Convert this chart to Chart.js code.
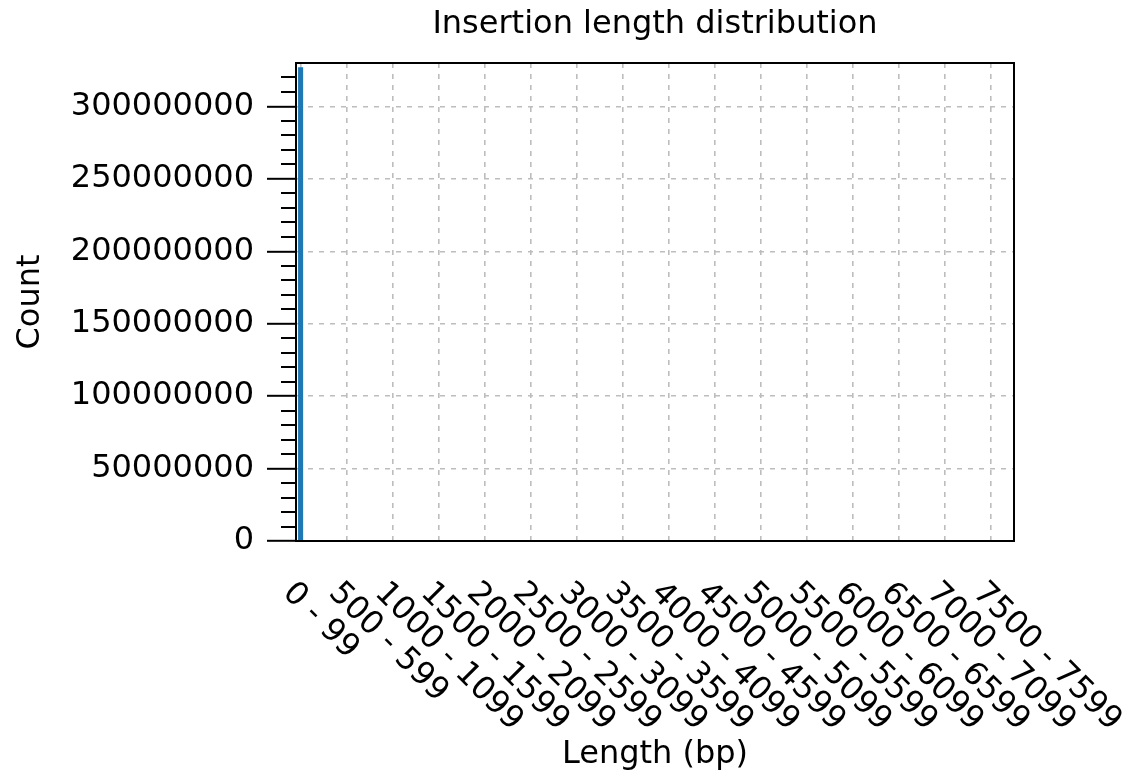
<!doctype html>
<html>
<head>
	<meta charset="utf-8">
	<title>Insertion length distribution</title>
	<script src="https://cdn.jsdelivr.net/npm/chart.js@4/dist/chart.umd.min.js"></script>
	<style>
		body { margin: 0; background: #fff; }
	</style>
</head>
<body>
	<canvas id="chart-area" width="1132" height="776"></canvas>
	<script>
		// 100 bp bins: "0 - 99", "100 - 199", ...
		var categories = Array.from({ length: 78 }, function(_, i) {
			return (i * 100) + ' - ' + (i * 100 + 99);
		});

		var counts = [
			327000000, 61000, 24000, 15200, 10800, 8300, 6900, 5800, 5100, 4500,
			4000, 3600, 3300, 3000, 2800, 2600, 2400, 2250, 2100, 1980,
			1850, 1740, 1650, 1560, 1480, 1400, 1330, 1270, 1210, 1150,
			1100, 1050, 1000, 960, 920, 880, 850, 810, 780, 750,
			720, 700, 670, 650, 620, 600, 580, 560, 540, 520,
			500, 490, 470, 450, 440, 420, 410, 400, 380, 370,
			360, 350, 340, 330, 320, 310, 300, 290, 285, 275,
			270, 260, 255, 250, 240, 235, 230, 220
		];

		var yTicks = [0, 50000000, 100000000, 150000000, 200000000, 250000000, 300000000];
		var yMax = 330000000;
		var yMinorStep = 10000000;
		var xLabelEvery = 5;

		var FONT = 'DejaVu Sans';
		var FONT_SIZE = 32;
		var gridGrey = '#bdbdbd';

		Chart.defaults.font.family = FONT;
		Chart.defaults.font.size = FONT_SIZE;
		Chart.defaults.color = '#000';

		// title centred over the plot area
		var titlePlugin = {
			id: 'plotTitle',
			afterDraw: function(chart) {
				var ctx = chart.ctx, area = chart.chartArea;
				ctx.save();
				ctx.font = FONT_SIZE + 'px "' + FONT + '"';
				ctx.fillStyle = '#000';
				ctx.textAlign = 'center';
				ctx.textBaseline = 'alphabetic';
				ctx.fillText('Insertion length distribution', (area.left + area.right) / 2, 33);
				ctx.restore();
			}
		};

		// closed box round the plot + short minor ticks on y
		var framePlugin = {
			id: 'frame',
			afterDatasetsDraw: function(chart) {
				var ctx = chart.ctx, area = chart.chartArea;
				var y = chart.scales.y;
				ctx.save();
				ctx.strokeStyle = '#000';
				ctx.lineWidth = 2;
				ctx.strokeRect(area.left, area.top, area.right - area.left, area.bottom - area.top);
				ctx.beginPath();
				for (var v = yMinorStep; v < yMax; v += yMinorStep) {
					if (yTicks.indexOf(v) !== -1) continue;
					var py = Math.round(y.getPixelForValue(v));
					ctx.moveTo(area.left - 15, py);
					ctx.lineTo(area.left, py);
				}
				ctx.stroke();
				ctx.restore();
			}
		};

		// rotated bin labels, running down to the right from each tick
		var xLabelPlugin = {
			id: 'xLabels',
			afterDraw: function(chart) {
				var ctx = chart.ctx, area = chart.chartArea;
				var x = chart.scales.x;
				ctx.save();
				ctx.font = FONT_SIZE + 'px "' + FONT + '"';
				ctx.fillStyle = '#000';
				ctx.textAlign = 'left';
				ctx.textBaseline = 'middle';
				for (var i = 0; i < categories.length; i += xLabelEvery) {
					var px = x.getPixelForTick(i);
					ctx.save();
					ctx.translate(px - 13, area.bottom + 47);
					ctx.rotate(Math.PI / 4);
					ctx.fillText(categories[i], 0, 0);
					ctx.restore();
				}
				ctx.restore();
			}
		};

		var config = {
			type: 'bar',
			data: {
				labels: categories,
				datasets: [{
					data: counts,
					backgroundColor: '#1f77b4',
					borderWidth: 0,
					categoryPercentage: 1.0,
					barPercentage: 0.55
				}]
			},
			plugins: [titlePlugin, framePlugin, xLabelPlugin],
			options: {
				responsive: false,
				devicePixelRatio: 1,
				animation: false,
				layout: { padding: { top: 63, right: 118, left: 0, bottom: 0 } },
				plugins: {
					legend: { display: false },
					tooltip: { enabled: false }
				},
				scales: {
					x: {
						offset: true,
						afterFit: function(s) { s.height = 235; },
						ticks: { display: false, autoSkip: false },
						grid: {
							offset: false,
							drawTicks: false,
							lineWidth: 1.6,
							color: function(c) {
								return c.index % xLabelEvery === 0 ? gridGrey : 'rgba(0,0,0,0)';
							}
						},
						border: { color: '#000', width: 2, dash: [5, 6] },
						title: {
							display: true,
							text: 'Length (bp)',
							padding: { top: 0, bottom: 2 }
						}
					},
					y: {
						min: 0,
						max: yMax,
						bounds: 'data',
						afterFit: function(s) { s.width = 296; },
						afterBuildTicks: function(s) {
							s.ticks = yTicks.map(function(v) { return { value: v }; });
						},
						ticks: {
							padding: 13,
							callback: function(v) { return String(v); }
						},
						grid: {
							color: gridGrey,
							lineWidth: 1.6,
							tickLength: 29,
							tickColor: '#000',
							tickWidth: 2,
							tickBorderDash: []
						},
						border: { color: '#000', width: 2, dash: [5, 6] },
						title: {
							display: true,
							text: 'Count',
							padding: { top: 11, bottom: 0 }
						}
					}
				}
			}
		};

		window.onload = function() {
			var ctx = document.getElementById('chart-area').getContext('2d');
			window.myBar = new Chart(ctx, config);
		};
	</script>
</body>
</html>
